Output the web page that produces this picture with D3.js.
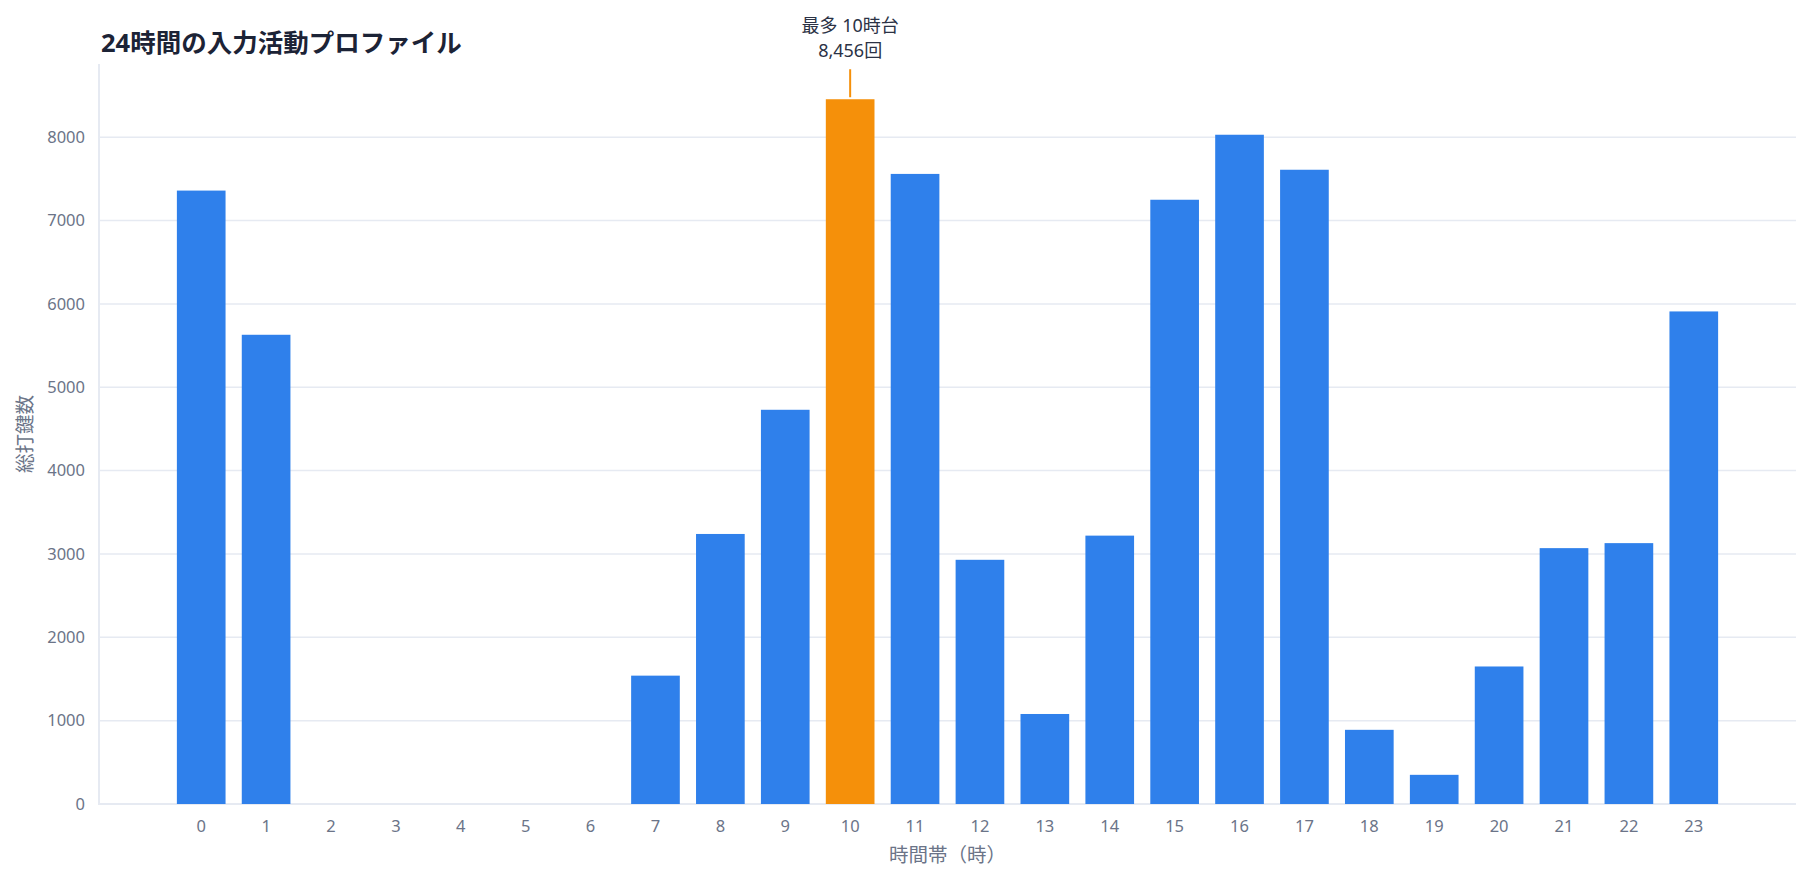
<!DOCTYPE html>
<html>
<head>
<meta charset="utf-8">
<script src="https://cdn.jsdelivr.net/npm/d3@7"></script>
<style>
  body { margin: 0; background: #fff; }
  text { font-family: "Noto Sans", "Noto Sans CJK JP", sans-serif; }
</style>
</head>
<body>
<svg width="1810" height="882"></svg>
<script>
// 時間帯ごとの総打鍵数
var hours = d3.range(0, 24);
var counts = [7360, 5630, 0, 0, 0, 0, 0, 1540, 3240, 4730, 8456, 7560,
              2930, 1080, 3220, 7250, 8030, 7610, 890, 350, 1650, 3070, 3130, 5910];
var yTicks = [0, 1000, 2000, 3000, 4000, 5000, 6000, 7000, 8000];

var svg = d3.select("svg");
var plotLeft = 99, plotRight = 1796, plotTop = 64, plotBottom = 804;

var peak = d3.max(counts);
var peakHour = hours[counts.indexOf(peak)];

// x軸（時間帯）
var x = d3.scaleBand()
    .domain(hours)
    .range([plotLeft, plotRight])
    .paddingInner(0.25)
    .paddingOuter(1.2);

// y軸（打鍵数）
var y = d3.scaleLinear()
    .domain([0, peak * 1.05])
    .range([plotBottom, plotTop]);

// グリッド線
svg.append("g")
    .selectAll("line")
    .data(yTicks)
    .enter()
    .append("line")
    .attr("x1", plotLeft)
    .attr("x2", plotRight)
    .attr("y1", function (d) { return y(d); })
    .attr("y2", function (d) { return y(d); })
    .attr("stroke", "#e6eaf2")
    .attr("stroke-width", function (d) { return d === 0 ? 2 : 1.5; });

// 左の軸線
svg.append("line")
    .attr("x1", plotLeft).attr("x2", plotLeft)
    .attr("y1", plotTop).attr("y2", plotBottom + 1)
    .attr("stroke", "#e6eaf2")
    .attr("stroke-width", 2);

// y目盛り
svg.append("g")
    .selectAll("text")
    .data(yTicks)
    .enter()
    .append("text")
    .attr("x", plotLeft - 14)
    .attr("y", function (d) { return y(d); })
    .attr("dy", "0.35em")
    .attr("text-anchor", "end")
    .attr("font-size", 16.5)
    .attr("fill", "#6b7488")
    .text(function (d) { return d; });

// x目盛り
svg.append("g")
    .selectAll("text")
    .data(hours)
    .enter()
    .append("text")
    .attr("x", function (d) { return x(d) + x.bandwidth() / 2; })
    .attr("y", plotBottom + 22)
    .attr("dy", "0.35em")
    .attr("text-anchor", "middle")
    .attr("font-size", 16.5)
    .attr("fill", "#6b7488")
    .text(function (d) { return d; });

// 棒
svg.append("g")
    .selectAll("rect")
    .data(hours)
    .enter()
    .append("rect")
    .attr("x", function (d) { return x(d); })
    .attr("width", x.bandwidth())
    .attr("y", function (d, i) { return y(counts[i]); })
    .attr("height", function (d, i) { return y(0) - y(counts[i]); })
    .attr("fill", function (d) { return d === peakHour ? "#f5900a" : "#2f80eb"; });

// 最多の注記
var px = x(peakHour) + x.bandwidth() / 2;
svg.append("line")
    .attr("x1", px).attr("x2", px)
    .attr("y1", y(peak) - 2)
    .attr("y2", y(peak) - 30)
    .attr("stroke", "#f5900a")
    .attr("stroke-width", 2);

svg.append("text")
    .attr("x", px)
    .attr("y", 26)
    .attr("dy", "0.35em")
    .attr("text-anchor", "middle")
    .attr("font-size", 18)
    .attr("fill", "#2b3245")
    .text("最多 " + peakHour + "時台");

svg.append("text")
    .attr("x", px)
    .attr("y", 51)
    .attr("dy", "0.35em")
    .attr("text-anchor", "middle")
    .attr("font-size", 18)
    .attr("fill", "#2b3245")
    .text(d3.format(",")(peak) + "回");

// タイトル
svg.append("text")
    .attr("x", 101)
    .attr("y", 52)
    .attr("font-size", 25.5)
    .attr("font-weight", "bold")
    .attr("fill", "#1c2336")
    .text("24時間の入力活動プロファイル");

// 軸タイトル
svg.append("text")
    .attr("transform", "translate(25," + ((plotTop + plotBottom) / 2) + ") rotate(-90)")
    .attr("dy", "0.35em")
    .attr("text-anchor", "middle")
    .attr("font-size", 19.5)
    .attr("fill", "#6b7488")
    .text("総打鍵数");

svg.append("text")
    .attr("x", (plotLeft + plotRight) / 2)
    .attr("y", 855)
    .attr("dy", "0.35em")
    .attr("text-anchor", "middle")
    .attr("font-size", 19.5)
    .attr("fill", "#6b7488")
    .text("時間帯（時）");
</script>
</body>
</html>
